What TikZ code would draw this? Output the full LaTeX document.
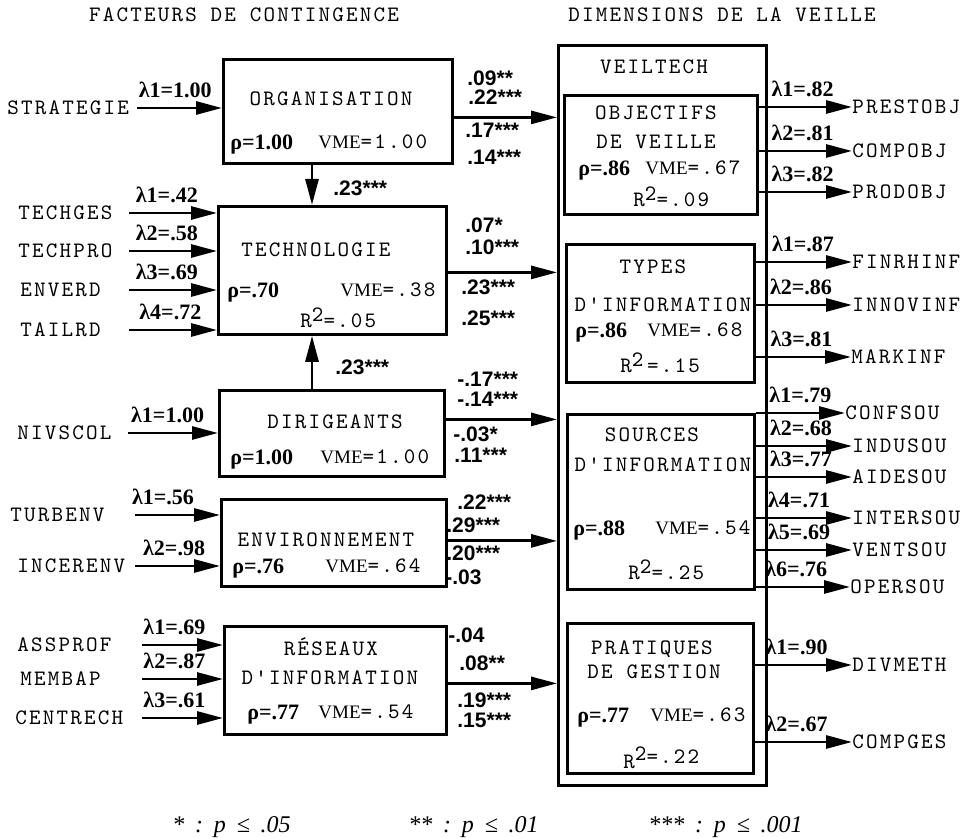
\documentclass[tikz,border=0pt]{standalone}
\usepackage{fontspec}
\setmainfont{Liberation Serif}
\setsansfont{Liberation Sans}
\setmonofont[LetterSpace=10]{lmmono10-regular.otf}
\usetikzlibrary{arrows.meta,positioning}

\newcommand{\vmetxt}[1]{{\rmfamily\fontsize{9.5}{11}\selectfont VME}=#1}
\newcommand{\rsq}{R\raisebox{0.6ex}{2}}
\newcommand{\lgap}{\hspace{0.45em}}

\begin{document}
\begin{tikzpicture}[
  x=0.5pt, y=-0.5pt,
  every node/.style={inner sep=0pt, text depth=0pt},
  font=\ttfamily\fontsize{11}{13}\selectfont,
  box/.style={draw, line width=1.4pt, anchor=north west},
  varname/.style={anchor=west},
  lam/.style={font=\rmfamily\bfseries\fontsize{11}{12}\selectfont, above=4.5pt, pos=0.43},
  coef/.style={font=\sffamily\bfseries\fontsize{10.5}{11}\selectfont, anchor=west},
  rho/.style={font=\rmfamily\bfseries\fontsize{11}{12}\selectfont, anchor=west},
  vme/.style={anchor=west},
  flow/.style={line width=1.4pt, -{Triangle[length=13pt,width=6.5pt]}},
  legend/.style={font=\rmfamily\itshape\fontsize{12}{14}\selectfont, anchor=west}
]
\useasboundingbox (0,0) rectangle (970,838);

% titles
\node (titleL) at (244,15) {FACTEURS DE CONTINGENCE};
\node (titleR) at (722,15) {DIMENSIONS DE LA VEILLE};

% contingency factors
\node[box, minimum width=114.5pt, minimum height=52pt] (org) at (222,58) {};
\node (orgname) at (331,99) {ORGANISATION};
\node[rho] (orgrho) at (230,142) {ρ=1.00};
\node[vme] (orgvme) at (318,142) {\vmetxt{1.00}};

\node[box, minimum width=114pt, minimum height=64pt] (tech) at (217,205) {};
\node (techname) at (316,250) {TECHNOLOGIE};
\node[rho] (techrho) at (227,290) {ρ=.70};
\node[vme] (techvme) at (340,290) {\vmetxt{.38}};
\node[vme] (techrsq) at (300,318) {\rsq=.05};

\node[box, minimum width=112.5pt, minimum height=43pt] (dir) at (218,389) {};
\node (dirname) at (335,422) {DIRIGEANTS};
\node[rho] (dirrho) at (230,457) {ρ=1.00};
\node[vme] (dirvme) at (320,457) {\vmetxt{1.00}};

\node[box, minimum width=112.5pt, minimum height=43.5pt] (env) at (220,498) {};
\node (envname) at (326,540) {ENVIRONNEMENT};
\node[rho] (envrho) at (232,566) {ρ=.76};
\node[vme] (envvme) at (325,566) {\vmetxt{.64}};

\node[box, minimum width=111pt, minimum height=54pt] (res) at (223,625) {};
\node (resname) at (331,647) {RÉSEAUX};
\node (resname2) at (330,678) {D'INFORMATION};
\node[rho] (resrho) at (247,712) {ρ=.77};
\node[vme] (resvme) at (318,712) {\vmetxt{.54}};

% indicators of the factors
\coordinate (colO) at (137,0);
\coordinate (colT) at (129,0);
\coordinate (colD) at (128,0);
\coordinate (colE) at (135,0);
\coordinate (colR) at (142,0);

\node[varname] (strategie) at (7,108) {STRATEGIE};
\node[varname] (techges) at (18,213) {TECHGES};
\node[varname] (techpro) at (18,251) {TECHPRO};
\node[varname] (enverd) at (20,290) {ENVERD};
\node[varname] (tailrd) at (20,330) {TAILRD};
\node[varname] (nivscol) at (17,433) {NIVSCOL};
\node[varname] (turbenv) at (10,515) {TURBENV};
\node[varname] (incerenv) at (17,566) {INCERENV};
\node[varname] (assprof) at (17,645) {ASSPROF};
\node[varname] (membap) at (20,679) {MEMBAP};
\node[varname] (centrech) at (15,718) {CENTRECH};

\draw[flow] (strategie -| colO) -- node[lam, pos=0.45] {λ1=1.00} (strategie -| org.west);
\draw[flow] (techges -| colT) -- node[lam] {λ1=.42} (techges -| tech.west);
\draw[flow] (techpro -| colT) -- node[lam] {λ2=.58} (techpro -| tech.west);
\draw[flow] (enverd -| colT) -- node[lam] {λ3=.69} (enverd -| tech.west);
\draw[flow] (tailrd -| colT) -- node[lam, pos=0.47] {λ4=.72} (tailrd -| tech.west);
\draw[flow] (nivscol -| colD) -- node[lam, pos=0.44] {λ1=1.00} (nivscol -| dir.west);
\draw[flow] (turbenv -| colE) -- node[lam, pos=0.33] {λ1=.56} (turbenv -| env.west);
\draw[flow] (incerenv -| colE) -- node[lam, pos=0.46] {λ2=.98} (incerenv -| env.west);
\draw[flow] (assprof -| colR) -- node[lam, pos=0.4] {λ1=.69} (assprof -| res.west);
\draw[flow] (membap -| colR) -- node[lam, pos=0.4] {λ2=.87} (membap -| res.west);
\draw[flow] (centrech -| colR) -- node[lam, pos=0.4] {λ3=.61} (centrech -| res.west);

% links between factors
\coordinate (vx) at (312,0);
\draw[flow] (vx |- org.south) -- (vx |- tech.north);
\draw[flow] (vx |- dir.north) -- (vx |- tech.south);
\node[coef] (orgtech) at (333,188) {.23***};
\node[coef] (dirtech) at (335,367) {.23***};

% dimensions of the watch
\node[box, minimum width=104pt, minimum height=370pt] (veil) at (557,44) {};
\node (veilname) at (654,67) {VEILTECH};

\node[box, minimum width=96.5pt, minimum height=59.5pt] (obj) at (563,94) {};
\node (objname) at (656,113) {OBJECTIFS};
\node (objname2) at (656,142) {DE VEILLE};
\node[rho] (objrho) at (578,168) {ρ=.86};
\node[vme] (objvme) at (645,168) {\vmetxt{.67}};
\node[vme] (objrsq) at (633,197) {\rsq=.09};

\node[box, minimum width=94pt, minimum height=69pt] (typ) at (565,243) {};
\node (typname) at (653,267) {TYPES};
\node (typname2) at (663,305) {D'INFORMATION};
\node[rho] (typrho) at (575,330) {ρ=.86};
\node[vme] (typvme) at (647,330) {\vmetxt{.68}};
\node[vme] (typrsq) at (620,363) {\rsq\,=.15};

\node[box, minimum width=93.5pt, minimum height=87.5pt] (src) at (566,413) {};
\node (srcname) at (652,435) {SOURCES};
\node (srcname2) at (663,465) {D'INFORMATION};
\node[rho] (srcrho) at (573,528) {ρ=.88};
\node[vme] (srcvme) at (655,528) {\vmetxt{.54}};
\node[vme] (srcrsq) at (628,570) {\rsq=.25};

\node[box, minimum width=93pt, minimum height=75pt] (prat) at (566,622) {};
\node (pratname) at (652,648) {PRATIQUES};
\node (pratname2) at (654,672) {DE GESTION};
\node[rho] (pratrho) at (577,715) {ρ=.77};
\node[vme] (pratvme) at (650,715) {\vmetxt{.63}};
\node[vme] (pratrsq) at (623,755) {\raisebox{-0.6ex}{R}\raisebox{0.3ex}{2}=.22};

% paths to the dimensions
\draw[flow] ([yshift=-3pt]org.east) -- ([yshift=-3pt]org.east -| veil.west);
\draw[flow] ([yshift=-1pt]tech.east) -- ([yshift=-1pt]tech.east -| veil.west);
\draw[flow] ([yshift=7pt]dir.east) -- ([yshift=7pt]dir.east -| veil.west);
\draw[flow] ([yshift=1pt]env.east) -- ([yshift=1pt]env.east -| veil.west);
\draw[flow] ([yshift=-1.5pt]res.east) -- ([yshift=-1.5pt]res.east -| veil.west);

\node[coef] (c11) at (467,78) {.09**};
\node[coef] (c12) at (468,97) {.22***};
\node[coef] (c13) at (465,130) {.17***};
\node[coef] (c14) at (467,157) {.14***};
\node[coef] (c21) at (465,225) {.07*};
\node[coef] (c22) at (465,247) {.10***};
\node[coef] (c23) at (461,287) {.23***};
\node[coef] (c24) at (461,318) {.25***};
\node[coef] (c31) at (457,379) {-.17***};
\node[coef] (c32) at (457,399) {-.14***};
\node[coef] (c33) at (453,434) {-.03*};
\node[coef] (c34) at (454,455) {.11***};
\node[coef] (c41) at (457,502) {.22***};
\node[coef] (c42) at (446,525) {.29***};
\node[coef] (c43) at (446,553) {.20***};
\node[coef] (c44) at (445,577) {-.03};
\node[coef] (c51) at (448,635) {-.04};
\node[coef] (c52) at (459,663) {.08**};
\node[coef] (c53) at (457,700) {.19***};
\node[coef] (c54) at (457,720) {.15***};

% indicators of the dimensions
\node[varname] (prestobj) at (852,107) {PRESTOBJ};
\node[varname] (compobj) at (852,151) {COMPOBJ};
\node[varname] (prodobj) at (852,192) {PRODOBJ};
\node[varname] (finrhinf) at (852,262) {FINRHINF};
\node[varname] (innovinf) at (852,305) {INNOVINF};
\node[varname] (markinf) at (851,357) {MARKINF};
\node[varname] (confsou) at (845,413) {CONFSOU};
\node[varname] (indusou) at (852,446) {INDUSOU};
\node[varname] (aidesou) at (852,477) {AIDESOU};
\node[varname] (intersou) at (852,518) {INTERSOU};
\node[varname] (ventsou) at (852,550) {VENTSOU};
\node[varname] (opersou) at (850,587) {OPERSOU};
\node[varname] (divmeth) at (852,665) {DIVMETH};
\node[varname] (compges) at (852,742) {COMPGES};

\draw[flow] (prestobj -| obj.east) -- node[lam, pos=0.47] {λ1=.82} (prestobj.west);
\draw[flow] (compobj -| obj.east) -- node[lam, pos=0.47] {λ2=.81} (compobj.west);
\draw[flow] (prodobj -| obj.east) -- node[lam, pos=0.47] {λ3=.82} (prodobj.west);
\draw[flow] (finrhinf -| typ.east) -- node[lam, pos=0.49] {λ1=.87} (finrhinf.west);
\draw[flow] (innovinf -| typ.east) -- node[lam, pos=0.47] {λ2=.86} (innovinf.west);
\draw[flow] (markinf -| typ.east) -- node[lam, pos=0.48] {λ3=.81} (markinf.west);
\draw[flow] (confsou -| src.east) -- node[lam, pos=0.5] {λ1=.79} (confsou.west);
\draw[flow] (indusou -| src.east) -- node[lam, pos=0.47] {λ2=.68} (indusou.west);
\draw[flow] (aidesou -| src.east) -- node[lam, pos=0.47] {λ3=.77} (aidesou.west);
\draw[flow] (intersou -| src.east) -- node[lam, pos=0.45] {λ4=.71} (intersou.west);
\draw[flow] (ventsou -| src.east) -- node[lam, pos=0.45] {λ5=.69} (ventsou.west);
\draw[flow] (opersou -| src.east) -- node[lam, pos=0.43] {λ6=.76} (opersou.west);
\draw[flow] (divmeth -| prat.east) -- node[lam, pos=0.43] {λ1=.90} (divmeth.west);
\draw[flow] (compges -| prat.east) -- node[lam, pos=0.43] {λ2=.67} (compges.west);

% significance levels
\node[legend] (sig1) at (172,825) {*\lgap:\lgap p\lgap ≤\lgap .05};
\node[legend] (sig2) at (408,825) {**\lgap:\lgap p\lgap ≤\lgap .01};
\node[legend] (sig3) at (648,825) {***\lgap:\lgap p\lgap ≤\lgap .001};
\end{tikzpicture}
\end{document}
